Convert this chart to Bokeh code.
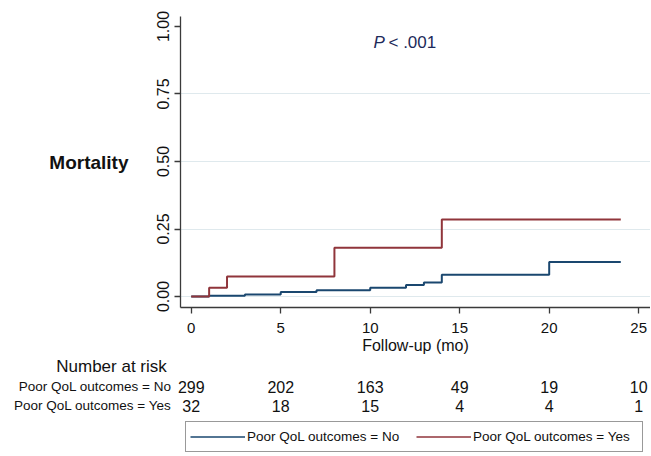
from bokeh.plotting import figure
from bokeh.models import Range1d, FixedTicker, Legend, LegendItem, PrintfTickFormatter
from bokeh.layouts import column, row
from bokeh.core.properties import value
from bokeh.embed import file_html
from bokeh.resources import INLINE

# ---------------- data ----------------
no_times = [0, 1, 3, 5, 7, 10, 12, 13, 14, 20, 24]
no_mort = [0.0, 0.003, 0.007, 0.017, 0.023, 0.032, 0.043, 0.052, 0.081, 0.128, 0.128]
yes_times = [0, 1, 2, 8, 14, 24]
yes_mort = [0.0, 0.032, 0.074, 0.181, 0.285, 0.285]

risk_times = [0, 5, 10, 15, 20, 25]
risk_no = [299, 202, 163, 49, 19, 10]
risk_yes = [32, 18, 15, 4, 4, 1]

x_ticks = [0, 5, 10, 15, 20, 25]
y_ticks = [0.0, 0.25, 0.50, 0.75, 1.00]
grid_ticks = [0.0, 0.25, 0.50, 0.75]

label_no = "Poor QoL outcomes = No"
label_yes = "Poor QoL outcomes = Yes"
risk_title = "Number at risk"
p_text = "P"
p_rest = "< .001"

BLUE = "#1a476f"
RED = "#90353b"
FONT = "Liberation Sans"
W = 650
LEFT = 180
X0, X1 = -0.6, 25.66
Y0, Y1 = -0.0407, 1.037

# ---------------- main plot ----------------
p = figure(width=W, height=356, x_range=Range1d(X0, X1), y_range=Range1d(Y0, Y1),
           output_backend="svg", toolbar_location=None,
           min_border_left=LEFT, min_border_right=0, min_border_top=16, min_border_bottom=49)
p.outline_line_color = None
p.background_fill_color = "white"
p.border_fill_color = "white"

p.step(no_times, no_mort, mode="after", line_color=BLUE, line_width=2)
p.step(yes_times, yes_mort, mode="after", line_color=RED, line_width=2)

p.xgrid.visible = False
p.ygrid.ticker = FixedTicker(ticks=grid_ticks)
p.ygrid.grid_line_color = "#dfe9ed"
p.ygrid.grid_line_width = 1

for ax in (p.xaxis[0], p.yaxis[0]):
    ax.axis_line_color = "#3a3a3a"
    ax.axis_line_width = 1.3
    ax.major_tick_line_color = "#3a3a3a"
    ax.major_tick_line_width = 1.3
    ax.major_tick_out = 6
    ax.major_tick_in = 0
    ax.minor_tick_line_color = None
    ax.major_label_text_font = FONT
    ax.major_label_text_color = "#111111"
    ax.axis_label_text_font = FONT
    ax.axis_label_text_color = "#111111"

p.xaxis.ticker = FixedTicker(ticks=x_ticks)
p.xaxis.major_label_text_font_size = "15px"
p.xaxis.major_label_standoff = 9
p.xaxis.axis_label = "Follow-up (mo)"
p.xaxis.axis_label_text_font_size = "16px"
p.xaxis.axis_label_text_font_style = "normal"
p.xaxis.axis_label_standoff = 1

p.yaxis.ticker = FixedTicker(ticks=y_ticks)
p.yaxis.formatter = PrintfTickFormatter(format="%.2f")
p.yaxis.major_label_orientation = "vertical"
p.yaxis.major_label_text_font_size = "16px"
p.yaxis.major_label_standoff = 5
p.yaxis.axis_label = "Mortality"
p.yaxis.axis_label_orientation = "horizontal"
p.yaxis.axis_label_text_font_size = "19px"
p.yaxis.axis_label_text_font_style = "bold"
p.yaxis.axis_label_standoff = 26

ppu = (W - LEFT) / (X1 - X0)
p.text(x=[X0 + (373 - LEFT) / ppu], y=[0.94], text=[p_text], text_font=value(FONT),
       text_font_size="17px", text_font_style="italic", text_color="#1c2a5a",
       text_baseline="middle", text_align="left")
p.text(x=[X0 + (388 - LEFT) / ppu], y=[0.94], text=[p_rest], text_font=value(FONT),
       text_font_size="17px", text_color="#1c2a5a",
       text_baseline="middle", text_align="left")

# ---------------- risk table: labels (left) + numbers/legend (right) ----------------
H2 = 98
LEFT2 = 174
head_y, row1_y, row2_y = 10, 30, 49

pa = figure(width=LEFT2, height=H2, x_range=Range1d(0, LEFT2), y_range=Range1d(H2, 0),
            output_backend="svg", toolbar_location=None, x_axis_type=None, y_axis_type=None,
            min_border=0, min_border_left=0, min_border_right=0, min_border_top=0, min_border_bottom=0)
pa.outline_line_color = None
pa.xgrid.visible = False
pa.ygrid.visible = False
pa.text(x=[111], y=[head_y], text=[risk_title], text_font=value(FONT),
        text_font_size="17px", text_color="#111111", text_align="center", text_baseline="middle")
pa.text(x=[171, 171], y=[row1_y, row2_y], text=[label_no, label_yes],
        text_font=value(FONT), text_font_size="13.5px", text_color="#111111",
        text_align="right", text_baseline="middle")

pb = figure(width=W - LEFT2, height=H2, x_range=Range1d(X0 - (LEFT - LEFT2) / ppu, X1),
            y_range=Range1d(H2, 0),
            output_backend="svg", toolbar_location=None, x_axis_type=None, y_axis_type=None,
            min_border=0, min_border_left=0, min_border_right=0, min_border_top=0, min_border_bottom=0)
pb.outline_line_color = None
pb.xgrid.visible = False
pb.ygrid.visible = False
pb.text(x=risk_times, y=[row1_y] * len(risk_times), text=[str(v) for v in risk_no],
        text_font=value(FONT), text_font_size="16px", text_color="#111111",
        text_align="center", text_baseline="middle")
pb.text(x=risk_times, y=[row2_y] * len(risk_times), text=[str(v) for v in risk_yes],
        text_font=value(FONT), text_font_size="16px", text_color="#111111",
        text_align="center", text_baseline="middle")

# legend samples (hidden renderers carrying the same series)
r_no = pb.line(x=no_times, y=no_mort, line_color=BLUE, line_width=1.5, visible=False)
r_yes = pb.line(x=yes_times, y=yes_mort, line_color=RED, line_width=1.5, visible=False)
legend = Legend(items=[LegendItem(label=label_no, renderers=[r_no]),
                       LegendItem(label=label_yes, renderers=[r_yes])],
                orientation="horizontal", location=(11, 2),
                padding=4, margin=0, spacing=4, glyph_width=55, glyph_height=21,
                label_standoff=2, label_height=21, label_width=165,
                label_text_font=FONT, label_text_font_size="13.5px", label_text_color="#111111",
                border_line_color="#333333", border_line_width=1,
                background_fill_color="white", background_fill_alpha=1.0,
                inactive_fill_alpha=0.0, click_policy="none")
pb.add_layout(legend)

layout = column(p, row(pa, pb, spacing=0), spacing=0)
open("out.html", "w").write(file_html(layout, INLINE))
